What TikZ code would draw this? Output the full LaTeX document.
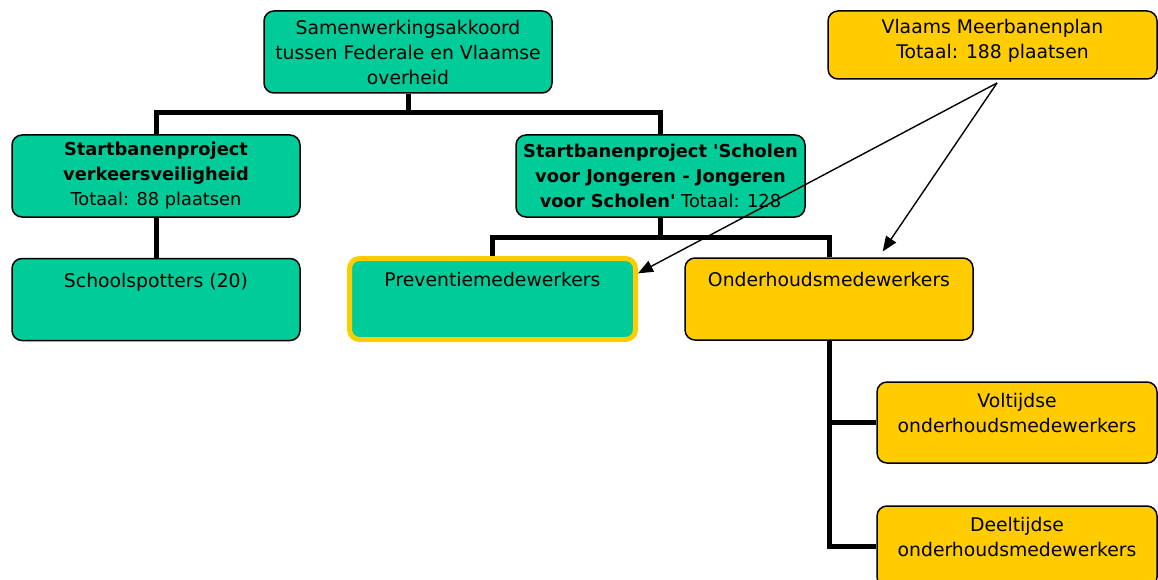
\documentclass[tikz,border=0pt]{standalone}
\usepackage{fontspec}
\setmainfont{DejaVu Sans}
\usetikzlibrary{arrows.meta}
\definecolor{groen}{RGB}{0,204,153}
\definecolor{geel}{RGB}{255,204,0}
\tikzset{
  vak/.style={draw=black, line width=1.5pt, rounded corners=10pt, align=center,
    inner sep=3pt, minimum width=288pt, minimum height=82pt},
  groenvak/.style={vak, fill=groen},
  geelvak/.style={vak, fill=geel},
  project/.style={groenvak, font=\fontsize{17.8}{25}\selectfont},
  boven/.style={text height=25pt, text depth=50pt},
  tak/.style={line width=5pt},
  pijl/.style={line width=1.4pt, -{Triangle[length=15pt,width=12pt]}},
}
\begin{document}
\begin{tikzpicture}[x=1pt,y=-1pt,font=\fontsize{18.8}{25}\selectfont]
\useasboundingbox (0,0) rectangle (1158,580);

\node[groenvak] (akkoord) at (408,52) {Samenwerkingsakkoord\\tussen Federale en Vlaamse\\overheid};
\node[project] (verkeer) at (156,176) {\textbf{Startbanenproject}\\\textbf{verkeersveiligheid}\\Totaal: 88 plaatsen};
\node[project, minimum width=289pt] (scholen) at (660.5,176) {\textbf{Startbanenproject \textquotesingle Scholen}\\\textbf{voor Jongeren - Jongeren}\\\textbf{voor Scholen\textquotesingle} Totaal: 128};
\node[groenvak, boven] (spotters) at (156,299.5) {Schoolspotters (20)};
\node[groenvak, boven, draw=geel, line width=5pt, minimum width=286pt, minimum height=81pt] (preventie) at (492.5,299) {Preventiemedewerkers};
\node[geelvak, boven] (onderhoud) at (829,299) {Onderhoudsmedewerkers};
\node[geelvak, minimum width=329pt, minimum height=68pt, text depth=12pt] (meerbanen) at (992.5,45) {Vlaams Meerbanenplan\\Totaal: 188 plaatsen};
\node[geelvak, minimum width=280pt, minimum height=81pt, text depth=20pt] (voltijds) at (1017,422.5) {Voltijdse\\onderhoudsmedewerkers};
\node[geelvak, minimum width=280pt, minimum height=81pt, text depth=20pt] (deeltijds) at (1017,546.5) {Deeltijdse\\onderhoudsmedewerkers};

% boomstructuur
\coordinate (split1) at (408,113);
\coordinate (split2) at (660.5,237);
\draw[tak] (akkoord.south) -- (split1);
\draw[tak] (verkeer.north) |- (split1) -| (scholen.north);
\draw[tak] (verkeer.south) -- (spotters.north);
\draw[tak] (scholen.south) -- (split2);
\draw[tak] (preventie.north) |- (split2) -| (onderhoud.north);
\draw[tak] (onderhoud.south) |- (voltijds.west);
\draw[tak] (onderhoud.south) |- (deeltijds.west);

\coordinate (bron) at (997,83);
\draw[pijl] (bron) -- (preventie.10);
\draw[pijl, shorten >=7pt] (bron) -- (onderhoud.40);
\end{tikzpicture}
\end{document}
